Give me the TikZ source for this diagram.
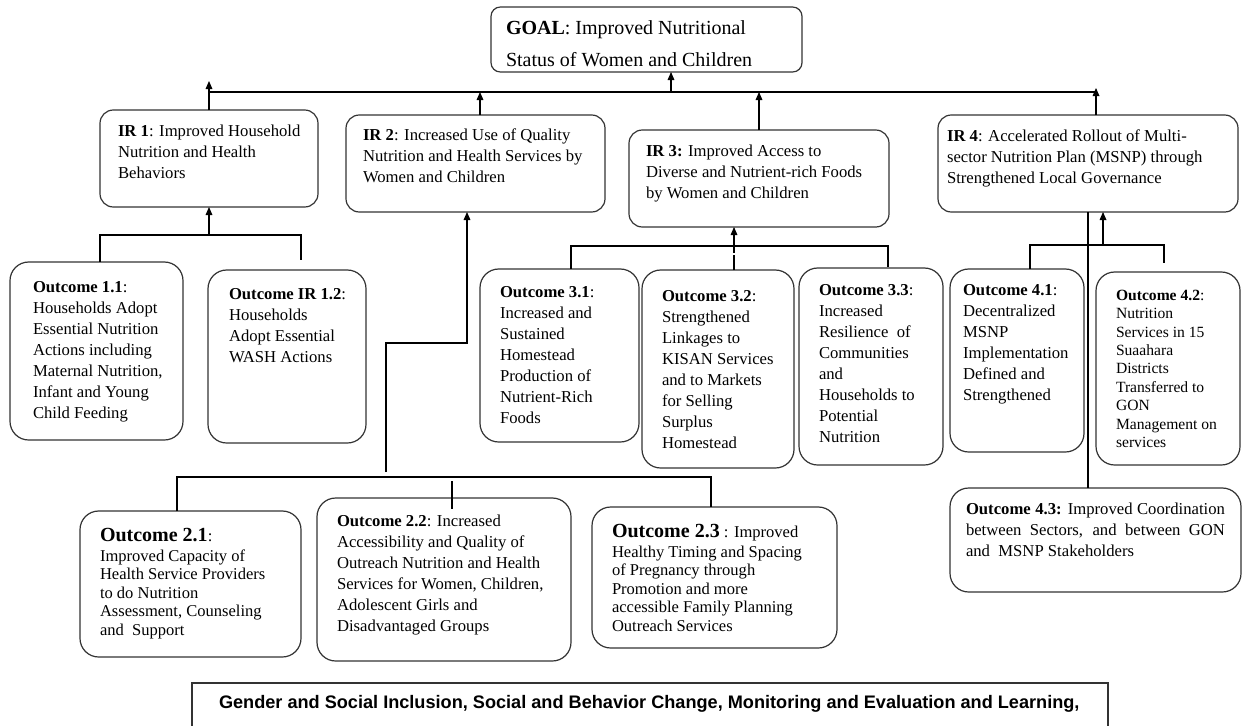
\documentclass[tikz,border=0pt]{standalone}
\usepackage{fontspec}
\setmainfont{Liberation Serif}
\newfontfamily\sansfont{Liberation Sans}
\usetikzlibrary{positioning,calc,arrows.meta}
\newdimen\pxu \pxu=0.75pt
% box body: width, height, left pad (all in px), text
\newcommand{\boxtext}[4]{\parbox[t][#2\pxu][t]{#1\pxu}{\raggedright\leftskip=#3\pxu\relax #4}}

\begin{document}
\begin{tikzpicture}[x=0.75pt,y=-0.75pt,
	rbox/.style={draw=black!80, line width=0.9pt, rounded corners=14pt, anchor=north west, inner xsep=0pt, outer sep=0pt, font=\fontsize{12.5}{15.75}\selectfont},
	irbox/.style={rbox, rounded corners=10pt},
	conn/.style={draw, line width=0.8pt},
	arr/.style={conn, -{Triangle[length=6pt,width=5pt]}}]
		\useasboundingbox (0,0) rectangle (1244,725);

		% goal and intermediate results
		\node[irbox, rounded corners=7pt, inner ysep=10.5pt, font=\fontsize{15}{24}\selectfont] (goal) at (491,7) {\boxtext{311}{37}{15}{\textbf{GOAL}: Improved Nutritional\\Status of Women and Children}};
		\node[irbox, inner ysep=11.25pt] (ir1) at (100,110) {\boxtext{218}{67}{18}{\textbf{IR 1}: Improved Household\\Nutrition and Health\\Behaviors}};
		\node[irbox, inner ysep=10.5pt] (ir2) at (346,115) {\boxtext{259}{69}{17}{\textbf{IR 2}: Increased Use of Quality\\Nutrition and Health Services by\\Women and Children}};
		\node[irbox, inner ysep=11.25pt] (ir3) at (629,130) {\boxtext{260}{67}{17}{\textbf{IR 3:} Improved Access to\\Diverse and Nutrient-rich Foods\\by Women and Children}};
		\node[irbox, inner ysep=11.25pt] (ir4) at (938,115) {\boxtext{300}{67}{9}{\textbf{IR 4}: Accelerated Rollout of Multi-\\sector Nutrition Plan (MSNP) through\\Strengthened Local Governance}};

		% outcomes
		\node[rbox, inner ysep=14.25pt] (o11) at (10,262) {\boxtext{173}{140}{23}{\textbf{Outcome 1.1}:\\Households Adopt\\Essential Nutrition\\Actions including\\Maternal Nutrition,\\Infant and Young\\Child Feeding}};
		\node[rbox, inner ysep=13.5pt] (o12) at (208,270) {\boxtext{158}{137}{21}{\textbf{Outcome IR 1.2}:\\Households\\Adopt Essential\\WASH Actions}};
		\node[rbox, inner ysep=12.75pt] (o31) at (480,269) {\boxtext{159}{139}{20}{\textbf{Outcome 3.1}:\\Increased and\\Sustained\\Homestead\\Production of\\Nutrient-Rich\\Foods}};
		\node[rbox, inner ysep=15pt] (o32) at (642,270) {\boxtext{152}{158}{20}{\textbf{Outcome 3.2}:\\Strengthened\\Linkages to\\KISAN Services\\and to Markets\\for Selling\\Surplus\\Homestead}};
		\node[rbox, inner ysep=12pt] (o33) at (799,268) {\boxtext{144}{165}{20}{\textbf{Outcome 3.3}:\\Increased\\Resilience\ \ of\\Communities\\and\\Households to\\Potential\\Nutrition}};
		\node[rbox, inner ysep=11.25pt] (o41) at (950,269) {\boxtext{134}{153}{13}{\textbf{Outcome 4.1}:\\Decentralized\\MSNP\\Implementation\\Defined and\\Strengthened}};
		\node[rbox, inner ysep=13.5pt, font=\fontsize{11.7}{13.8}\selectfont] (o42) at (1096,272) {\boxtext{144}{157}{20}{\textbf{Outcome 4.2}:\\Nutrition\\Services in 15\\Suaahara\\Districts\\Transferred to\\GON\\Management on\\services}};
		\node[rbox, inner ysep=11.25pt] (o43) at (950,488) {\boxtext{291}{74}{16}{\rightskip=16\pxu\relax\textbf{Outcome 4.3:} Improved Coordination\linebreak between Sectors, and between GON\linebreak and\ \ MSNP Stakeholders}};
		\node[rbox, inner ysep=12.75pt, font=\fontsize{12.4}{13.9}\selectfont] (o21) at (80,511) {\boxtext{221}{112}{20}{{\fontsize{15}{17}\selectfont\textbf{Outcome 2.1}}:\\[1pt]Improved Capacity of\\Health Service Providers\\to do Nutrition\\Assessment, Counseling\\and\ \ Support}};
		\node[rbox, inner ysep=12.75pt] (o22) at (317,498) {\boxtext{254}{129}{20}{\textbf{Outcome 2.2}: Increased\\Accessibility and Quality of\\Outreach Nutrition and Health\\Services for Women, Children,\\Adolescent Girls and\\Disadvantaged Groups}};
		\node[rbox, inner ysep=12.75pt, font=\fontsize{12.4}{13.9}\selectfont] (o23) at (592,507) {\boxtext{245}{107}{20}{{\fontsize{15}{17}\selectfont\textbf{Outcome 2.3}} : Improved\\[1pt]Healthy Timing and Spacing\\of Pregnancy through\\Promotion and more\\accessible Family Planning\\Outreach Services}};

		% cross-cutting themes
		\node[draw=black!80, line width=0.9pt, anchor=north west, inner xsep=0pt, inner ysep=9.3pt, outer sep=0pt, font=\sansfont\bfseries\fontsize{13.6}{16}\selectfont] (cross) at (192,683) {\boxtext{916}{36}{27}{Gender and Social Inclusion, Social and Behavior Change, Monitoring and Evaluation and Learning,}};

		% top bus to goal
		\coordinate (busL) at (208,92);
		\coordinate (busR) at (1096,92);
		\coordinate (bus2) at (480,92);
		\coordinate (bus0) at (671,92);
		\draw[conn] (busL) -- (busR);
		\draw[arr] (ir1.north) -- ++(0,-29);
		\draw[arr] (bus2 |- ir2.north) -- (bus2);
		\draw[arr] (bus0) -- (bus0 |- goal.south);
		\draw[arr] (ir3.north) -- (ir3.north |- busL);
		\draw[arr] (busR |- ir4.north) -- ++(0,-27);

		% IR 1 outcomes
		\coordinate (j1) at (209,235);
		\coordinate (b1l) at (100,235);
		\coordinate (b1r) at (301,235);
		\draw[arr] (j1) -- (ir1.south);
		\draw[conn] (b1l |- o11.north) -- (b1l) -- (b1r) -- ++(0,25);

		% IR 2 outcomes
		\coordinate (j2) at (386,472);
		\coordinate (k2) at (467,343);
		\coordinate (b2l) at (177,477);
		\coordinate (b2r) at (711,477);
		\coordinate (t22) at (452,481);
		\draw[arr] (j2) |- (k2) -- (k2 |- ir2.south);
		\draw[conn] (b2l |- o21.north) -- (b2l) -- (b2r) -- (b2r |- o23.north);
		\draw[conn] (t22) -- ++(0,28);

		% IR 3 outcomes
		\coordinate (b3l) at (571,246);
		\coordinate (b3r) at (888,246);
		\coordinate (k3) at (734,246);
		\draw[conn] (b3l |- o31.north) -- (b3l) -- (b3r) -- ++(0,21);
		\draw[conn, dash pattern=on 11pt off 2pt] (k3 |- o32.north) -- (k3);
		\draw[arr] (k3) -- (k3 |- ir3.south);

		% IR 4 outcomes
		\coordinate (b4l) at (1030,245);
		\coordinate (b4r) at (1164,245);
		\coordinate (k4) at (1103,245);
		\draw[conn] (b4l |- o41.north) -- (b4l) -- (b4r) -- ++(0,18);
		\draw[arr] (k4) -- (k4 |- ir4.south);
		\draw[conn] (ir4.south) -- (ir4.south |- o43.north);
	\end{tikzpicture}
\end{document}
